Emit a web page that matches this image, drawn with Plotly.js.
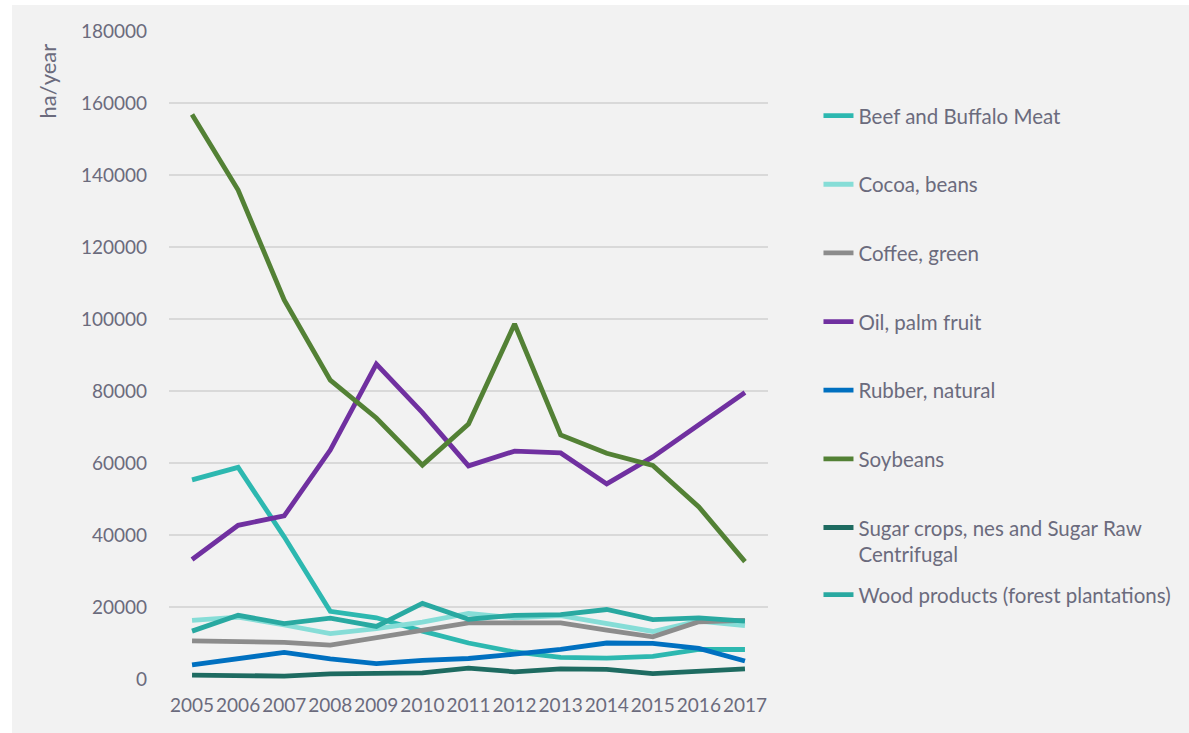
<!DOCTYPE html>
<html>
<head>
<meta charset="utf-8">
<script src="https://cdn.plot.ly/plotly-3.0.1.min.js"></script>
<style>
  html, body { margin: 0; padding: 0; background: #ffffff; }
  #chart { position: absolute; left: 12px; top: 5px; width: 1177px; height: 728px; }
</style>
</head>
<body>
<div id="chart"></div>
<script>
const years = ["2005","2006","2007","2008","2009","2010","2011","2012","2013","2014","2015","2016","2017"];

const beefBuffalo = [55300, 58800, 39500, 18800, 17000, 13300, 10000, 7500, 6000, 5800, 6300, 8200, 8200];
const cocoaBeans  = [16300, 17200, 15000, 12600, 14000, 15800, 18200, 17000, 17600, 15300, 13200, 16100, 14800];
const coffeeGreen = [10600, 10300, 10200, 9400, 11400, 13600, 15600, 15600, 15600, 13600, 11700, 15900, 16300];
const oilPalm     = [33200, 42700, 45300, 63600, 87500, 74000, 59200, 63300, 62800, 54200, 61700, 70600, 79600];
const rubber      = [3900, 5600, 7400, 5600, 4300, 5200, 5700, 6900, 8200, 10000, 9900, 8500, 5000];
const soybeans    = [156800, 135800, 105300, 83000, 72500, 59400, 70800, 98600, 67800, 62700, 59300, 47800, 32600];
const sugar       = [1100, 1000, 800, 1400, 1400, 1700, 3000, 2000, 2800, 2700, 1500, 2000, 2800];
const wood        = [13300, 17700, 15400, 16900, 14600, 21000, 16600, 17700, 17900, 19300, 16500, 17000, 16100];

const seriesNames = [
  "Beef and Buffalo Meat",
  "Cocoa, beans",
  "Coffee, green",
  "Oil, palm fruit",
  "Rubber, natural",
  "Soybeans",
  "Sugar crops, nes and Sugar Raw<br>Centrifugal",
  "Wood products (forest plantations)"
];
const seriesValues = [beefBuffalo, cocoaBeans, coffeeGreen, oilPalm, rubber, soybeans, sugar, wood];
const seriesColors = ["#2db8b0", "#86ddd7", "#8c8c8c", "#7030a0", "#0070c0", "#538135", "#1e6b61", "#29a9a1"];
const yTicks = [0, 20000, 40000, 60000, 80000, 100000, 120000, 140000, 160000, 180000];

const textColor = "#6b6b7d";
const fontFamily = "Lato, 'Open Sans', sans-serif";

const traces = seriesNames.map((name, i) => ({
  type: "scatter",
  mode: "lines",
  name: name,
  x: years,
  y: seriesValues[i],
  line: { color: seriesColors[i], width: 4.8 },
  legendgroup: "g" + i,
  legend: i === 7 ? "legend2" : "legend",
  hoverinfo: "x+y+name"
}));

const legendCommon = {
  xref: "container", yref: "container",
  xanchor: "left", yanchor: "top",
  bgcolor: "rgba(0,0,0,0)",
  borderwidth: 0,
  font: { family: fontFamily, size: 20.5, color: textColor },
  valign: "top",
  traceorder: "grouped",
  tracegroupgap: 39,
  maxheight: 720
};

const layout = {
  width: 1177,
  height: 728,
  margin: { l: 157, r: 421, t: 26, b: 54 },
  paper_bgcolor: "#f2f2f2",
  plot_bgcolor: "#f2f2f2",
  font: { family: fontFamily, size: 19, color: textColor },
  showlegend: true,
  legend: Object.assign({}, legendCommon, { x: 0.6852, y: 0.8753 }),
  legend2: Object.assign({}, legendCommon, { x: 0.6852, y: 0.2173 }),
  xaxis: {
    type: "category",
    categoryorder: "array",
    categoryarray: years,
    range: [-0.5, years.length - 0.5],
    showgrid: false,
    zeroline: false,
    showline: false,
    ticks: "",
    tickangle: 0,
    tickfont: { family: fontFamily, size: 19, color: textColor },
    ticklabelstandoff: 13,
    fixedrange: true
  },
  yaxis: {
    range: [0, 180000],
    tickvals: yTicks,
    ticktext: yTicks.map(v => String(v)),
    showgrid: true,
    gridcolor: "#d9d9d9",
    gridwidth: 1.5,
    zeroline: false,
    showline: false,
    ticks: "",
    tickfont: { family: fontFamily, size: 19, color: textColor },
    ticklabelstandoff: 21,
    fixedrange: true
  },
  annotations: [{
    text: "ha/year",
    xref: "paper", yref: "paper",
    x: -0.202, y: 0.983,
    xanchor: "center", yanchor: "top",
    textangle: -90,
    showarrow: false,
    font: { family: fontFamily, size: 22, color: textColor }
  }]
};

Plotly.newPlot("chart", traces, layout, { displayModeBar: false, staticPlot: true });
</script>
</body>
</html>
